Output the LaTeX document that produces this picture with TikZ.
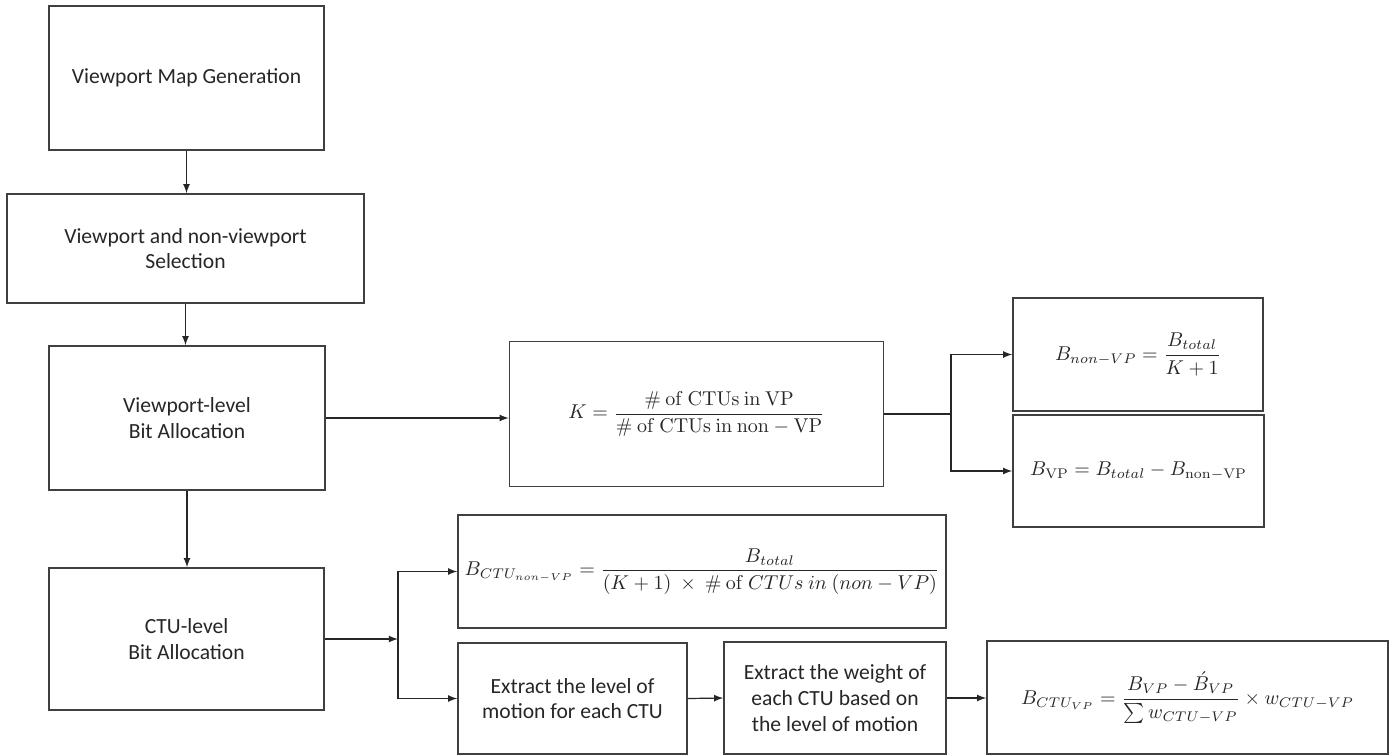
\documentclass[tikz,border=0pt]{standalone}
\usepackage[no-math]{fontspec}
\setmainfont{Carlito}
\usepackage{amsmath}
\usepackage{tikz}
\usetikzlibrary{calc,positioning,arrows}

\begin{document}
\begin{tikzpicture}[x=0.5pt,y=0.5pt]

	\tikzstyle{block} = [rectangle, draw=black!75, line width=0.75pt, text=black!85,
		align=center, font=\fontsize{10.8}{12.8}\selectfont]
	\tikzstyle{formula} = [block, inner sep=2pt, font=\fontsize{10}{12}\selectfont]
	\tikzstyle{line} = [draw=black!85, ->, >=latex, line width=0.6pt]
	\tikzstyle{link} = [draw=black!85, line width=0.6pt]

	\useasboundingbox (0,0) rectangle (1390,-755);

    % Place nodes
    \node [block, minimum width=137.5pt, minimum height=72pt] at (186.5,-78) (map_gen) {Viewport Map Generation};
    \node [block, minimum width=178.5pt, minimum height=54.5pt] at (185.5,-248.5) (vp_select) {Viewport and non-viewport\\Selection};
    \node [block, minimum width=138pt, minimum height=72pt] at (187,-418) (vp_level) {Viewport-level\\Bit Allocation};
    \node [block, minimum width=137.5pt, minimum height=71pt] at (186.5,-639) (ctu_level) {CTU-level\\Bit Allocation};

    \node [formula, minimum width=187pt, minimum height=72.5pt] at (696.5,-414) (k_ratio)
    	{$K = \dfrac{\mathrm{\#\ of\ CTUs\ in\ VP}}{\mathrm{\#\ of\ CTUs\ in\ non} - \mathrm{VP}}$};
    \node [formula, minimum width=125pt, minimum height=56.5pt] at (1138,-354.5) (b_nonvp)
    	{$B_{non-VP} = \dfrac{B_{total}}{K+1}$};
    \node [formula, minimum width=125.5pt, minimum height=56pt] at (1138.5,-471) (b_vp)
    	{$B_{\mathrm{VP}} = B_{total} - B_{\mathrm{non-VP}}$};

    \node [formula, minimum width=244pt, minimum height=56.5pt] at (702,-571.5) (b_ctu_nonvp)
    	{$B_{CTU_{non-VP}} = \dfrac{B_{total}}{(K+1)\ \times\ \#\ \mathrm{of}\ CTUs\ in\ (non-VP)}$};
    \node [block, minimum width=114.5pt, minimum height=55.5pt] at (572.5,-698.5) (extract_level)
    	{Extract the level of\\motion for each CTU};
    \node [block, minimum width=111pt, minimum height=56pt] at (835,-698) (extract_weight)
    	{Extract the weight of\\each CTU based on\\the level of motion};
    \node [formula, minimum width=200.5pt, minimum height=56.5pt] at (1187.5,-697.5) (b_ctu_vp)
    	{$B_{CTU_{VP}} = \dfrac{B_{VP} - \acute{B}_{VP}}{\sum w_{CTU-VP}} \times w_{CTU-VP}$};

    \coordinate (k_split) at (951,-414);
    \coordinate (ctu_split) at (398,-639);

    % Draw edges
    \path [line] (map_gen.south) -- (map_gen.south |- vp_select.north);
    \path [line] (vp_select.south) -- (vp_select.south |- vp_level.north);
    \path [line] (vp_level.south) -- (vp_level.south |- ctu_level.north);
    \path [line] (vp_level.east) -- (vp_level.east -| k_ratio.west);

    \path [link] (k_ratio.east) -- (k_split);
    \path [line] (k_split) |- (b_nonvp.west);
    \path [line] (k_split) |- (b_vp.west);

    \path [line] (ctu_level.east) -- (ctu_split);
    \path [line] (ctu_split) |- (b_ctu_nonvp.west);
    \path [line] (ctu_split) |- (extract_level.west);
    \path [line] (extract_level.east) -- (extract_weight.west);
    \path [line] (extract_weight.east) -- (extract_weight.east -| b_ctu_vp.west);
\end{tikzpicture}
\end{document}
